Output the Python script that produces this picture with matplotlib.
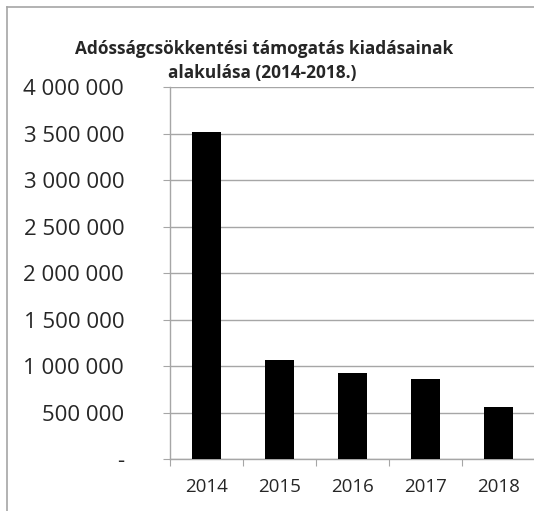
import matplotlib.pyplot as plt
from matplotlib.lines import Line2D

# Adósságcsökkentési támogatás kiadásai (Ft), értékek leolvasva az ábráról
years = ['2014', '2015', '2016', '2017', '2018']
values = [3520000, 1065000, 928000, 857000, 556000]
y_ticks = [0, 500000, 1000000, 1500000, 2000000, 2500000, 3000000, 3500000, 4000000]


def fmt(v):
    # Excel-style accounting format: space thousands separator, dash for zero
    if v == 0:
        return '-'
    return f"{v:,}".replace(',', ' ')


plt.rcParams['font.family'] = ['Open Sans', 'DejaVu Sans']

fig = plt.figure(figsize=(5.34, 5.11), dpi=100)
ax = fig.add_axes([170 / 534, 1 - 459 / 511, 365 / 534, (459 - 87) / 511])

grid_c = '#A6A6A6'
text_c = '#262626'

x = range(len(years))
ax.bar(x, values, width=0.39, color='black', zorder=3)

ax.set_xlim(-0.5, len(years) - 0.5)
ax.set_ylim(0, 4000000)

ax.set_yticks(y_ticks)
ax.set_yticklabels([fmt(v) for v in y_ticks])
ax.yaxis.grid(True, color=grid_c, linewidth=1)
ax.set_axisbelow(True)

# category boundaries carry the ticks, labels sit at the centres
ax.set_xticks([i - 0.5 for i in range(len(years) + 1)])
ax.set_xticklabels([])
ax.set_xticks(list(x), minor=True)
ax.set_xticklabels(years, minor=True)

ax.tick_params(axis='y', length=5, color=grid_c, pad=28, labelsize=16, labelcolor=text_c)
ax.tick_params(axis='x', which='major', length=5, color=grid_c)
ax.tick_params(axis='x', which='minor', length=0, pad=14, labelsize=13.5, labelcolor=text_c)

for s in ['top', 'right']:
    ax.spines[s].set_visible(False)
for s in ['left', 'bottom']:
    ax.spines[s].set_color(grid_c)
    ax.spines[s].set_linewidth(1)

fig.text(264 / 534, 1 - 49 / 511, 'Adósságcsökkentési támogatás kiadásainak',
         ha='center', va='center', fontsize=12.4, fontweight='bold', color=text_c)
fig.text(262 / 534, 1 - 73 / 511, 'alakulása (2014-2018.)',
         ha='center', va='center', fontsize=12.4, fontweight='bold', color=text_c)

# chart area frame (cropped at right and bottom)
fx = 7 / 534
fy = 1 - 7 / 511
fig.add_artist(Line2D([fx, fx], [0, fy], color=grid_c, linewidth=1.2))
fig.add_artist(Line2D([fx, 1], [fy, fy], color=grid_c, linewidth=1.2))

fig.savefig('out.png', dpi=100)
